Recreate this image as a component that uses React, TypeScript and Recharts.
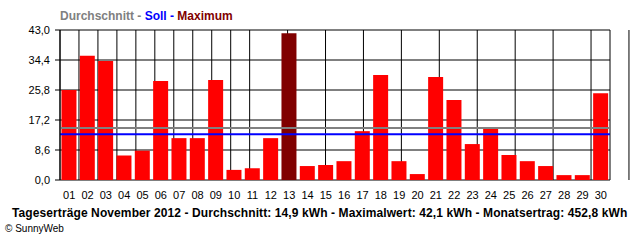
import {
    BarChart,
    Bar,
    XAxis,
    YAxis,
    CartesianGrid,
    ReferenceLine,
    Cell,
} from "recharts";

// Tageserträge November 2012 (kWh)
const days = [
    "01", "02", "03", "04", "05", "06", "07", "08", "09", "10",
    "11", "12", "13", "14", "15", "16", "17", "18", "19", "20",
    "21", "22", "23", "24", "25", "26", "27", "28", "29", "30",
];
const yields = [
    25.8, 35.6, 34.1, 7.0, 8.4, 28.4, 12.0, 12.0, 28.7, 2.9,
    3.4, 12.0, 42.1, 4.0, 4.3, 5.4, 14.0, 30.1, 5.4, 1.7,
    29.5, 22.9, 10.3, 15.2, 7.2, 5.4, 4.0, 1.4, 1.4, 24.9,
];
const average = 14.9;
const target = 13.1;
const yTicks = [0, 8.6, 17.2, 25.8, 34.4, 43];

const data = days.map((day, i) => ({ day, value: yields[i] }));
const maxValue = Math.max(...yields);
// category boundaries for grid lines and tick marks
const edges = [...days.map((_, i) => i), days.length];

const font = "'Liberation Sans', Arial, sans-serif";
const fmt = (v: number) => v.toFixed(1).replace(".", ",");

export default function App() {
    return (
        <div
            style={{
                position: "absolute",
                left: 0,
                top: 0,
                width: 640,
                height: 240,
                background: "#fff",
                fontFamily: font,
            }}
        >
            <div
                style={{
                    position: "absolute",
                    left: 60,
                    top: 9,
                    fontSize: 12,
                    fontWeight: "bold",
                    whiteSpace: "nowrap",
                    color: "#808080",
                }}
            >
                Durchschnitt - <span style={{ color: "#0000ff" }}>Soll - </span>
                <span style={{ color: "#800000" }}>Maximum</span>
            </div>
            <BarChart
                width={640}
                height={240}
                data={data}
                margin={{ top: 30, right: 30, bottom: 40, left: 0 }}
                barCategoryGap="8%"
            >
                <CartesianGrid xAxisId="edges" stroke="#000" strokeDasharray="" />
                <XAxis
                    xAxisId="edges"
                    type="number"
                    domain={[0, days.length]}
                    ticks={edges}
                    allowDataOverflow
                    height={0}
                    axisLine={{ stroke: "#000" }}
                    tickLine={{ stroke: "#000" }}
                    tickSize={5}
                    tick={() => <g />}
                />
                <XAxis
                    xAxisId="days"
                    dataKey="day"
                    height={20}
                    axisLine={false}
                    tickLine={false}
                    tickSize={0}
                    tickMargin={11}
                    interval={0}
                    tick={{ fill: "#000", fontSize: 11, fontFamily: font }}
                />
                <YAxis
                    width={60}
                    domain={[0, 43]}
                    ticks={yTicks}
                    tickFormatter={fmt}
                    axisLine={{ stroke: "#000" }}
                    tickLine={{ stroke: "#000" }}
                    tickSize={5}
                    tickMargin={5}
                    tick={{ fill: "#000", fontSize: 11, fontFamily: font }}
                />
                <Bar xAxisId="days" dataKey="value" isAnimationActive={false}>
                    {data.map((entry) => (
                        <Cell
                            key={entry.day}
                            fill={entry.value === maxValue ? "#800000" : "#ff0000"}
                        />
                    ))}
                </Bar>
                <ReferenceLine
                    xAxisId="days"
                    y={average}
                    stroke="#808080"
                    strokeWidth={2}
                />
                <ReferenceLine
                    xAxisId="days"
                    y={target}
                    stroke="#0000ff"
                    strokeWidth={2}
                />
            </BarChart>
            <div
                style={{
                    position: "absolute",
                    left: 12,
                    top: 206,
                    fontSize: 12,
                    fontWeight: "bold",
                    letterSpacing: 0.1,
                    whiteSpace: "nowrap",
                    color: "#000",
                }}
            >
                Tageserträge November 2012 - Durchschnitt: 14,9 kWh - Maximalwert:
                42,1 kWh - Monatsertrag: 452,8 kWh
            </div>
            <div
                style={{
                    position: "absolute",
                    left: 5,
                    top: 223,
                    fontSize: 10,
                    whiteSpace: "nowrap",
                    color: "#000",
                }}
            >
                © SunnyWeb
            </div>
        </div>
    );
}
